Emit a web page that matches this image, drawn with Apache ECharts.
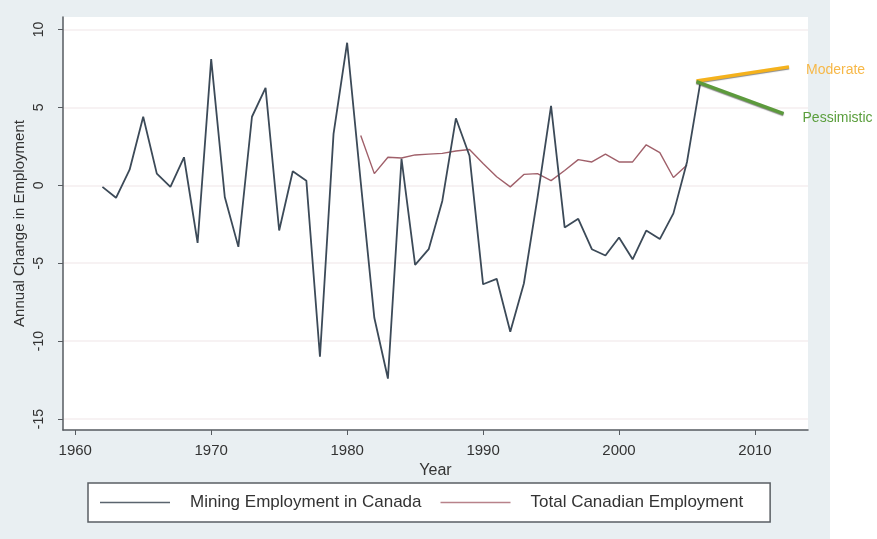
<!DOCTYPE html>
<html>
<head>
<meta charset="utf-8">
<title>Annual Change in Employment</title>
<script src="https://cdn.jsdelivr.net/npm/echarts@6/dist/echarts.min.js"></script>
<style>
	html,body{margin:0;padding:0;background:#fff;}
	#main{width:877px;height:539px;}
</style>
</head>
<body>
<div id="main"></div>
<script>
//采矿业就业 1962-2006
var miningYears=[1962,1963,1964,1965,1966,1967,1968,1969,1970,1971,1972,1973,1974,1975,1976,1977,1978,1979,1980,1981,1982,1983,1984,1985,1986,1987,1988,1989,1990,1991,1992,1993,1994,1995,1996,1997,1998,1999,2000,2001,2002,2003,2004,2005,2006];
var miningValues=[-0.1,-0.8,1.0,4.4,0.75,-0.1,1.8,-3.7,8.1,-0.75,-3.95,4.4,6.25,-2.9,0.9,0.3,-11.0,3.3,9.15,0.2,-8.5,-12.4,1.7,-5.1,-4.1,-1.0,4.3,1.9,-6.35,-6.0,-9.4,-6.3,-0.8,5.1,-2.7,-2.15,-4.1,-4.5,-3.35,-4.75,-2.9,-3.45,-1.8,1.5,6.7];

//加拿大总就业 1981-2005
var totalYears=[1981,1982,1983,1984,1985,1986,1987,1988,1989,1990,1991,1992,1993,1994,1995,1996,1997,1998,1999,2000,2001,2002,2003,2004,2005];
var totalValues=[3.2,0.75,1.8,1.75,1.95,2.0,2.05,2.2,2.3,1.4,0.55,-0.1,0.7,0.75,0.3,0.95,1.65,1.5,2.0,1.5,1.5,2.6,2.1,0.5,1.3];

//预测线
var moderateLine=[[2005.7,6.7],[2012.5,7.6]];
var pessimisticLine=[[2005.7,6.65],[2012.1,4.6]];

//刻度
var xTicks=[1960,1970,1980,1990,2000,2010];
var yTicks=[-15,-10,-5,0,5,10];

$(function(){
	var chart=echarts.init(document.getElementById('main'),null,{renderer:'canvas'});
	chart.setOption(buildOption());
});

/**
 * 简单的 ready
 */
function $(fn){
	if(document.readyState!='loading'){fn();}
	else{document.addEventListener('DOMContentLoaded',fn);}
}

/**
 * 组合 [x,y]
 */
function zipXY(xs,ys){
	var rtn=[];
	for(var i=0;i<xs.length;i++){
		rtn.push([xs[i],ys[i]]);
	}
	return rtn;
}

/**
 * 图表配置
 */
function buildOption(){
	var font="'Liberation Sans', Arial, sans-serif";
	var axisColor='#565b60';
	return {
		backgroundColor:'#e9eff2',
		animation:false,
		textStyle:{fontFamily:font},
		graphic:{
			elements:[{
				type:'rect',
				z:-1,
				silent:true,
				shape:{x:830,y:0,width:47,height:539},
				style:{fill:'#ffffff'}
			}]
		},
		grid:{
			left:63,
			top:17,
			right:69,
			bottom:109,
			show:true,
			backgroundColor:'#ffffff',
			borderWidth:0
		},
		legend:{
			left:88,
			top:483,
			padding:[11,27,11,12],
			icon:'rect',
			itemWidth:70,
			itemHeight:1.5,
			itemGap:19,
			backgroundColor:'#ffffff',
			borderColor:'#5a5f64',
			borderWidth:1.5,
			borderRadius:0,
			textStyle:{fontSize:17,color:'#333',fontFamily:font,lineHeight:14,padding:[0,0,0,15]},
			data:['Mining Employment in Canada','Total Canadian Employment']
		},
		xAxis:{
			type:'value',
			min:1959.1,
			max:2013.9,
			name:'Year',
			nameLocation:'middle',
			nameGap:23,
			nameTextStyle:{fontSize:16,color:'#333'},
			axisLine:{show:true,onZero:false,lineStyle:{color:axisColor,width:1.5}},
			axisTick:{show:true,length:5,customValues:xTicks,lineStyle:{color:axisColor}},
			axisLabel:{
				customValues:xTicks,
				margin:13,
				fontSize:15,
				color:'#333',
				formatter:function(v){return String(v);}
			},
			splitLine:{show:false}
		},
		yAxis:{
			type:'value',
			min:-15.7,
			max:10.8,
			name:'Annual Change in Employment',
			nameLocation:'middle',
			nameRotate:90,
			nameGap:36,
			nameMoveOverlap:false,
			nameTextStyle:{fontSize:15,color:'#333'},
			axisLine:{show:true,onZero:false,lineStyle:{color:axisColor,width:1.5}},
			axisTick:{show:true,length:5,customValues:yTicks,lineStyle:{color:axisColor}},
			axisLabel:{
				customValues:yTicks,
				rotate:90,
				margin:17,
				fontSize:14,
				color:'#333'
			},
			splitLine:{show:true,lineStyle:{color:'#f4eeef',width:1.5}}
		},
		series:[
			{
				name:'Mining Employment in Canada',
				type:'line',
				symbol:'none',
				data:zipXY(miningYears,miningValues),
				lineStyle:{color:'#3c4a58',width:1.8},
				itemStyle:{color:'#5a646e'},
				z:3
			},
			{
				name:'Total Canadian Employment',
				type:'line',
				symbol:'none',
				data:zipXY(totalYears,totalValues),
				lineStyle:{color:'#a0606a',width:1.4},
				itemStyle:{color:'#b8828a'},
				z:2
			},
			{
				name:'Moderate',
				type:'line',
				symbol:'none',
				data:moderateLine,
				lineStyle:{color:'#f5b21c',width:3.5,shadowColor:'rgba(60,60,60,0.6)',shadowOffsetY:1,shadowBlur:1},
				endLabel:{show:true,formatter:'Moderate',color:'#f7b848',fontSize:14,offset:[9,3]},
				z:4
			},
			{
				name:'Pessimistic',
				type:'line',
				symbol:'none',
				data:pessimisticLine,
				lineStyle:{color:'#5c9a3c',width:3.5,shadowColor:'rgba(60,60,60,0.6)',shadowOffsetY:1,shadowBlur:1},
				endLabel:{show:true,formatter:'Pessimistic',color:'#5a9e3c',fontSize:14,offset:[11,5]},
				z:4
			}
		]
	};
}
</script>
</body>
</html>
